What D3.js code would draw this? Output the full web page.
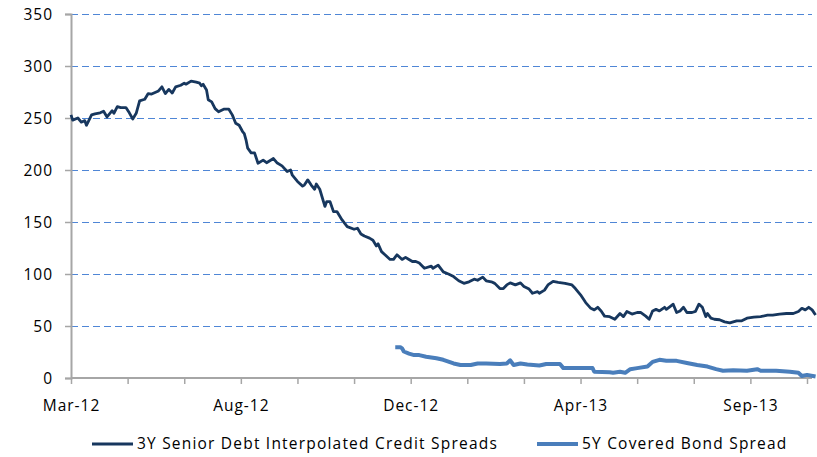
<!DOCTYPE html>
<head>
  <meta charset="utf-8">
  <script src="https://d3js.org/d3.v7.min.js"></script>
  <style>
    body { margin:0; background:#fff; }
    text { font-family: "Open Sans", sans-serif; font-size: 15.5px; letter-spacing: 1px; fill: #000; }
    .legend text { letter-spacing: 1.2px; }
  </style>
</head>
<body>
<script>

// x is a trading-day index from the first observation (Mar-12)
var seniorDays = [0,1,4,6,8,9,12,14,17,19,21,24,25,27,29,32,34,36,38,40,43,45,47,49,51,53,55,57,59,61,
  64,66,67,70,73,75,76,77,79,80,82,84,86,89,92,94,96,98,100,101,102,103,105,107,109,112,114,118,120,123,
  126,128,129,132,135,136,138,140,142,143,145,148,149,151,153,155,158,161,165,167,169,171,174,176,178,179,181,183,186,188,
  190,193,195,197,199,201,203,206,210,211,214,217,220,223,226,229,232,235,237,240,242,245,247,250,252,254,256,259,262,264,
  267,269,272,273,276,278,281,284,288,292,294,297,300,303,305,307,309,311,314,317,320,322,324,327,330,332,335,337,339,341,
  343,346,347,349,351,353,355,357,359,362,364,366,368,370,371,373,375,378,381,384,386,388,391,394,398,402,406,409,413,417,
  421,424,426,428,430,432,434];
var seniorSpread = [253,248,250,246,247.5,243,253,254,255,256.5,251,257,254.5,261,260,260,255,249,254.5,266.5,
  268,273.5,273,274.5,276,280,273.5,277.5,274,280,281.5,283.5,282.5,285.5,284.5,283.5,281,282.5,277,267.5,
  265.5,259,256,258.5,258.5,253,245,243,237,235,229,221,216.5,216.5,206.5,209.5,207,211,207,204,
  198.5,200,195,189,184.5,185.5,190.5,185.5,181.5,186.5,181.5,165,169.5,169.5,160,160,152,145.5,143,144,
  138.5,136.5,134.5,132.5,127,129,121.5,118.5,114,114,118.5,114,116,114,112,112,110.5,105.5,107.5,105.5,
  108.5,102,100,97.5,93.5,91,92.5,95,94,97,93.5,92.5,91,86,86,89.5,91.5,89.5,91.5,88,
  85.5,81.5,83,81.5,84.5,89.5,93,92,91,89.5,86,80,72.5,67,65.5,68,64.5,59.5,59,56.5,
  62,59,64,61.5,63,63,59.5,56.5,64.5,66,64.5,68,66,68.5,71,63,64.5,68,63,63,
  64,71,68,59,62,57.5,56.5,56,54,53,54,55,55,57.5,58.5,59,60.5,60.5,61.5,62,
  62,64,67,65.5,68,65.5,60.5];

var coveredDays = [189,192,193,194,197,200,203,207,213,217,223,227,233,237,242,250,254,256,258,262,
  266,273,277,285,287,297,304,305,314,316,320,323,326,330,336,339,343,347,353,359,365,371,376,380,386,394,400,402,411,419,
  424,426,429,434];
var coveredSpread = [29.5,29.5,28.5,25.5,23.5,22,22,20.5,19,17.5,14,12.5,12.5,14,14,13.5,14,17,12.5,14,
  13,12,13.5,13.5,9.5,9.5,9.5,6,5.5,5,6,5,8.5,9.5,11,15.5,17.5,16.5,16.5,14.5,12.5,11,8.5,7,7.5,7,8.5,7,7,6,
  5,2,3,1.5];

var yTicks = [0,50,100,150,200,250,300,350];
var xTickStep = 33;           // trading days between tick marks
var xTickLabels = ["Mar-12","Aug-12","Dec-12","Apr-13","Sep-13"];  // every third tick
var seriesNames = ["3Y Senior Debt Interpolated Credit Spreads","5Y Covered Bond Spread"];
var seriesColors = ["#17375e","#4a7ebb"];

var width = 817, height = 457;
// note: "top" is a reserved window property, so use plot* names
var plotLeft = 71, plotRight = 812, plotTop = 14, plotBottom = 378;

var svg = d3.select("body").append("svg")
    .attr("width", width)
    .attr("height", height);

var x = d3.scaleLinear().domain([0, 13 * xTickStep]).range([plotLeft, 807]);
var y = d3.scaleLinear().domain([0, 350]).range([plotBottom, plotTop]);

// dashed gridlines (half-pixel offset keeps them crisp)
svg.append("g")
    .attr("transform", "translate(0,0.5)")
  .selectAll("line")
  .data(yTicks.filter(function(d){ return d > 0; }))
  .enter().append("line")
    .attr("x1", plotLeft).attr("x2", plotRight)
    .attr("y1", function(d){ return y(d); })
    .attr("y2", function(d){ return y(d); })
    .attr("stroke", "#4f86d6")
    .attr("stroke-width", 1)
    .attr("stroke-dasharray", "7,4");

// y axis
var yAxis = svg.append("g")
    .attr("transform", "translate(" + plotLeft + ",0)")
    .call(d3.axisLeft(y).tickValues(yTicks).tickSize(6).tickPadding(12));
yAxis.select(".domain").attr("stroke", "#a6a6a6").attr("stroke-width", 2);
yAxis.selectAll(".tick line").attr("stroke", "#a6a6a6").attr("stroke-width", 1.5);
yAxis.selectAll("text").attr("font-size", null).attr("font-family", null).attr("dy", "0.35em");

// x axis
var xTicks = d3.range(0, 14).map(function(i){ return i * xTickStep; });
var xAxis = svg.append("g")
    .attr("transform", "translate(0," + plotBottom + ")")
    .call(d3.axisBottom(x).tickValues(xTicks).tickSize(6).tickPadding(12)
      .tickFormat(function(d, i){ return i % 3 === 0 ? xTickLabels[i / 3] : ""; }));
xAxis.select(".domain").attr("stroke", "#a6a6a6").attr("stroke-width", 2).attr("d", "M" + plotLeft + ",0H" + plotRight);
xAxis.selectAll(".tick line").attr("stroke", "#a6a6a6").attr("stroke-width", 1.5);
xAxis.selectAll("text").attr("font-size", null).attr("font-family", null).attr("dy", "0.95em");

function pairs(days, vals){
  return days.map(function(d, i){ return [d, vals[i]]; });
}

var line = d3.line()
  .x(function(d){ return x(d[0]); })
  .y(function(d){ return y(d[1]); });

svg.append("path")
  .datum(pairs(coveredDays, coveredSpread))
  .attr("fill", "none")
  .attr("stroke", seriesColors[1])
  .attr("stroke-width", 4)
  .attr("stroke-linejoin", "round")
  .attr("d", line);

svg.append("path")
  .datum(pairs(seniorDays, seniorSpread))
  .attr("fill", "none")
  .attr("stroke", seriesColors[0])
  .attr("stroke-width", 2.8)
  .attr("stroke-linejoin", "round")
  .attr("d", line);

// legend
var legendX = [92, 537];
var legendW = [2.8, 4];
var lg = svg.append("g").attr("class", "legend").selectAll("g")
  .data(seriesNames)
  .enter().append("g")
    .attr("transform", function(d, i){ return "translate(" + legendX[i] + ",444)"; });
lg.append("line")
  .attr("x1", 0).attr("x2", 41)
  .attr("stroke", function(d, i){ return seriesColors[i]; })
  .attr("stroke-width", function(d, i){ return legendW[i]; });
lg.append("text")
  .attr("x", 45)
  .attr("dy", "0.35em")
  .text(function(d){ return d; });

</script>
</body>
